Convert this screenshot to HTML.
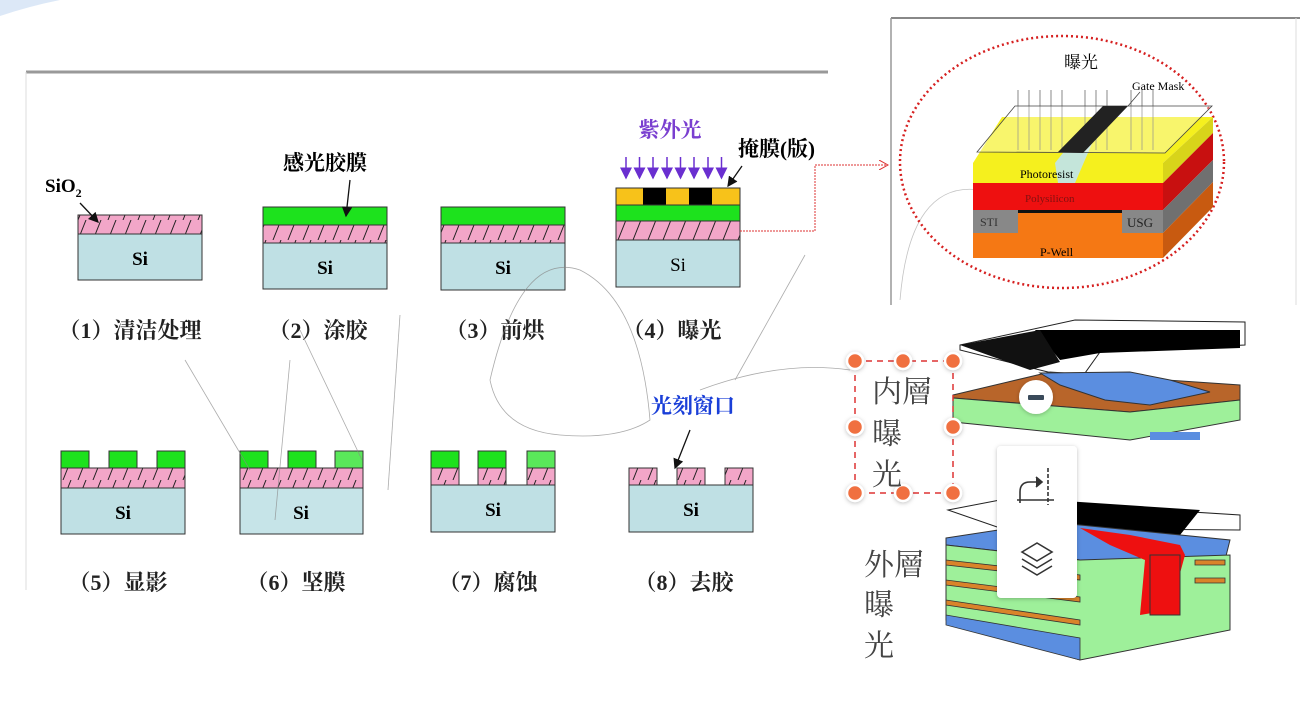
<!DOCTYPE html>
<html><head><meta charset="utf-8"><style>
html,body{margin:0;padding:0;background:#fff;}
svg{display:block;}
.cn{font-family:"Liberation Serif","Noto Serif CJK SC",serif;font-weight:bold;}
</style></head><body>
<svg width="1300" height="707" viewBox="0 0 1300 707" xmlns="http://www.w3.org/2000/svg">
<defs>
<pattern id="h" width="15" height="20" patternUnits="userSpaceOnUse">
<rect width="15" height="20" fill="#f2a6c8"/>
<line x1="3" y1="20" x2="11" y2="0" stroke="#222" stroke-width="1"/>
</pattern>
<marker id="ar" markerWidth="8" markerHeight="8" refX="7" refY="4" orient="auto"><path d="M0,0 L8,4 L0,8 z" fill="#111"/></marker>
<marker id="ap" markerWidth="8" markerHeight="8" refX="7" refY="4" orient="auto"><path d="M0,0 L8,4 L0,8 z" fill="#6a2fd0"/></marker>
<marker id="rr" markerWidth="10" markerHeight="10" refX="9" refY="5" orient="auto"><path d="M0,0 L9,5 L0,10" fill="none" stroke="#d33" stroke-width="1"/></marker>
<filter id="sh"><feDropShadow dx="0" dy="1" stdDeviation="2" flood-opacity="0.25"/></filter>
</defs>
<path d="M0,0 L60,0 Q30,6 0,16 z" fill="#dce8f7"/>
<!-- left panel -->
<line x1="26" y1="72" x2="828" y2="72" stroke="#999" stroke-width="3"/>
<line x1="26" y1="72" x2="26" y2="590" stroke="#ddd" stroke-width="1"/>
<!-- W1 -->
<rect x="78" y="215" width="124" height="19" fill="url(#h)" stroke="#333"/>
<rect x="78" y="234" width="124" height="46" fill="#bfe0e4" stroke="#333"/>
<text x="140" y="265" text-anchor="middle" font-family="Liberation Serif" font-weight="bold" font-size="19">Si</text>
<text x="45" y="192" font-family="Liberation Serif" font-weight="bold" font-size="19">SiO<tspan font-size="12" dy="5">2</tspan></text>
<line x1="80" y1="203" x2="98" y2="222" stroke="#111" stroke-width="1.3" marker-end="url(#ar)"/>
<!-- W2 -->
<rect x="263" y="207" width="124" height="18" fill="#1de21d" stroke="#333"/>
<rect x="263" y="225" width="124" height="18" fill="url(#h)" stroke="#333"/>
<rect x="263" y="243" width="124" height="46" fill="#bfe0e4" stroke="#333"/>
<text x="325" y="274" text-anchor="middle" font-family="Liberation Serif" font-weight="bold" font-size="19">Si</text>
<text x="325" y="170" text-anchor="middle" class="cn" font-size="21">感光胶膜</text>
<line x1="350" y1="180" x2="346" y2="216" stroke="#111" stroke-width="1.3" marker-end="url(#ar)"/>
<!-- W3 -->
<rect x="441" y="207" width="124" height="18" fill="#1de21d" stroke="#333"/>
<rect x="441" y="225" width="124" height="18" fill="url(#h)" stroke="#333"/>
<rect x="441" y="243" width="124" height="47" fill="#bfe0e4" stroke="#333"/>
<text x="503" y="274" text-anchor="middle" font-family="Liberation Serif" font-weight="bold" font-size="19">Si</text>
<!-- W4 -->
<rect x="616" y="188" width="124" height="17" fill="#f7c21a" stroke="#333"/>
<rect x="643" y="188" width="23" height="17" fill="#000"/>
<rect x="689" y="188" width="23" height="17" fill="#000"/>
<rect x="616" y="205" width="124" height="16" fill="#1de21d" stroke="#333"/>
<rect x="616" y="221" width="124" height="19" fill="url(#h)" stroke="#333"/>
<rect x="616" y="240" width="124" height="47" fill="#bfe0e4" stroke="#333"/>
<text x="678" y="271" text-anchor="middle" font-family="Liberation Serif" font-size="19">Si</text>
<text x="670" y="137" text-anchor="middle" class="cn" font-size="21" fill="#7a3fd0">紫外光</text>
<g stroke="#6a2fd0" stroke-width="1.5" marker-end="url(#ap)">
<line x1="626" y1="157" x2="626" y2="178"/><line x1="639.5" y1="157" x2="639.5" y2="178"/><line x1="653" y1="157" x2="653" y2="178"/><line x1="667" y1="157" x2="667" y2="178"/><line x1="680.5" y1="157" x2="680.5" y2="178"/><line x1="694" y1="157" x2="694" y2="178"/><line x1="708" y1="157" x2="708" y2="178"/><line x1="721.5" y1="157" x2="721.5" y2="178"/>
</g>
<text x="738" y="156" class="cn" font-size="21">掩膜(版)</text>
<line x1="742" y1="166" x2="728" y2="186" stroke="#111" stroke-width="1.3" marker-end="url(#ar)"/>
<!-- captions -->
<g class="cn" font-size="22" fill="#222">
<text x="130" y="338" text-anchor="middle">（1）清洁处理</text>
<text x="318" y="338" text-anchor="middle">（2）涂胶</text>
<text x="495" y="338" text-anchor="middle">（3）前烘</text>
<text x="672" y="338" text-anchor="middle">（4）曝光</text>
<text x="118" y="590" text-anchor="middle">（5）显影</text>
<text x="296" y="590" text-anchor="middle">（6）坚膜</text>
<text x="488" y="590" text-anchor="middle">（7）腐蚀</text>
<text x="684" y="590" text-anchor="middle">（8）去胶</text>
</g>
<!-- W5..W8 -->
<g stroke="#333">
<rect x="61" y="451" width="28" height="17" fill="#1de21d"/><rect x="109" y="451" width="28" height="17" fill="#1de21d"/><rect x="157" y="451" width="28" height="17" fill="#1de21d"/>
<rect x="61" y="468" width="124" height="20" fill="url(#h)"/>
<rect x="61" y="488" width="124" height="46" fill="#bfe0e4"/>
<rect x="240" y="451" width="28" height="17" fill="#1de21d"/><rect x="288" y="451" width="28" height="17" fill="#1de21d"/><rect x="335" y="451" width="28" height="17" fill="#5ae85a"/>
<rect x="240" y="468" width="123" height="20" fill="url(#h)"/>
<rect x="240" y="488" width="123" height="46" fill="#c6e4e8"/>
<rect x="431" y="451" width="28" height="17" fill="#1de21d"/><rect x="478" y="451" width="28" height="17" fill="#1de21d"/><rect x="527" y="451" width="28" height="17" fill="#5ae85a"/>
<rect x="431" y="468" width="28" height="17" fill="url(#h)"/><rect x="478" y="468" width="28" height="17" fill="url(#h)"/><rect x="527" y="468" width="28" height="17" fill="url(#h)"/>
<rect x="431" y="485" width="124" height="47" fill="#bfe0e4"/>
<rect x="629" y="468" width="28" height="17" fill="url(#h)"/><rect x="677" y="468" width="28" height="17" fill="url(#h)"/><rect x="725" y="468" width="28" height="17" fill="url(#h)"/>
<rect x="629" y="485" width="124" height="47" fill="#bfe0e4"/>
</g>
<g font-family="Liberation Serif" font-weight="bold" font-size="19" text-anchor="middle">
<text x="123" y="519">Si</text><text x="301" y="519">Si</text><text x="493" y="516">Si</text><text x="691" y="516">Si</text>
</g>
<text x="693" y="413" text-anchor="middle" class="cn" font-size="21" fill="#1a3fd8">光刻窗口</text>
<line x1="690" y1="430" x2="675" y2="468" stroke="#111" stroke-width="1.3" marker-end="url(#ar)"/>
<!-- faint overlay lines -->
<g fill="none" stroke="#888" stroke-width="0.8" opacity="0.7">
<path d="M185,360 L250,470"/><path d="M290,360 L275,520"/><path d="M300,330 L362,460"/><path d="M400,315 L388,490"/>
<path d="M490,380 Q520,250 580,270 Q640,300 650,420 Q620,440 560,435 Q500,430 490,380"/>
<path d="M805,255 L735,380"/><path d="M700,390 Q780,360 850,370"/>
<path d="M900,300 Q910,180 980,190" stroke="#aaa"/>
</g>
<!-- red dotted connector -->
<path d="M740,231 L815,231 L815,165 L888,165" fill="none" stroke="#d33" stroke-width="1" stroke-dasharray="2,1" marker-end="url(#rr)"/>
<!-- right top panel -->
<line x1="891" y1="18" x2="1300" y2="18" stroke="#888" stroke-width="2"/>
<line x1="891" y1="18" x2="891" y2="305" stroke="#999" stroke-width="1.5"/>
<line x1="1296" y1="18" x2="1296" y2="305" stroke="#ddd" stroke-width="1"/>
<ellipse cx="1062" cy="162" rx="162" ry="126" fill="none" stroke="#d62020" stroke-width="2.5" stroke-dasharray="2,3"/>
<text x="1081" y="68" text-anchor="middle" font-family="Liberation Serif,Noto Serif CJK SC,serif" font-size="17">曝光</text>
<polygon points="973,163 1002,117 1213,117 1163,163" fill="#f5f01e"/>
<polygon points="1163,163 1213,117 1213,133 1163,183" fill="#d8d41a"/>
<polygon points="1163,183 1213,133 1213,160 1163,210" fill="#c81010"/>
<polygon points="1163,210 1213,160 1213,182 1163,233" fill="#707070"/>
<polygon points="1163,233 1213,182 1213,207 1163,258" fill="#c85a10"/>
<rect x="973" y="163" width="190" height="20" fill="#f5f01e"/>
<rect x="973" y="183" width="190" height="27" fill="#ee1010"/>
<rect x="973" y="210" width="190" height="48" fill="#f57814"/>
<rect x="973" y="210" width="45" height="23" fill="#888"/>
<rect x="1122" y="210" width="41" height="23" fill="#888"/>
<rect x="1018" y="210" width="104" height="3" fill="#111"/>
<polygon points="1055,163 1085,125 1100,125 1075,183 1058,183" fill="#bfe3ee" opacity="0.9"/>
<g stroke="#555" stroke-width="0.7">
<line x1="1018" y1="90" x2="1018" y2="150"/><line x1="1029" y1="90" x2="1029" y2="150"/><line x1="1040" y1="90" x2="1040" y2="150"/><line x1="1051" y1="90" x2="1051" y2="150"/><line x1="1062" y1="90" x2="1062" y2="150"/><line x1="1085" y1="90" x2="1085" y2="150"/><line x1="1096" y1="90" x2="1096" y2="150"/><line x1="1107" y1="90" x2="1107" y2="150"/><line x1="1131" y1="90" x2="1131" y2="150"/><line x1="1142" y1="90" x2="1142" y2="150"/><line x1="1153" y1="90" x2="1153" y2="150"/>
</g>
<polygon points="977,152 1015,106 1212,106 1165,153" fill="rgba(255,255,255,0.35)" stroke="#444" stroke-width="0.8"/>
<polygon points="1058,152 1103,106 1128,106 1083,153" fill="#222"/>
<line x1="1128" y1="106" x2="1140" y2="92" stroke="#444" stroke-width="0.8"/>
<text x="1132" y="90" font-family="Liberation Serif" font-size="12">Gate Mask</text>
<text x="1020" y="178" font-family="Liberation Serif" font-size="12">Photoresist</text>
<text x="1025" y="202" font-family="Liberation Serif" font-size="11" fill="#801010">Polysilicon</text>
<text x="980" y="226" font-family="Liberation Serif" font-size="12" fill="#333">STI</text>
<text x="1127" y="227" font-family="Liberation Serif" font-size="13" fill="#222">USG</text>
<text x="1040" y="256" font-family="Liberation Serif" font-size="12">P-Well</text>
<!-- lower right PCB drawings -->
<polygon points="960,345 1075,320 1245,322 1245,345 1100,352 1080,380 960,350" fill="#fff" stroke="#222"/>
<polygon points="1035,330 1240,330 1240,348 1100,353 1060,360" fill="#000"/>
<polygon points="960,345 1040,330 1060,362 1030,370" fill="#111"/>
<polygon points="953,395 1050,372 1240,385 1240,400 1130,412 953,398" fill="#b8652a" stroke="#333"/>
<polygon points="1040,373 1130,372 1170,380 1210,392 1150,405 1105,400 1060,385" fill="#5b8ee0" stroke="#333"/>
<polygon points="953,398 1130,412 1240,400 1240,420 1130,440 953,422" fill="#9ef09a" stroke="#333"/>
<rect x="1150" y="432" width="50" height="8" fill="#5b8ee0"/>
<polygon points="948,510 1000,500 1240,515 1240,530 1000,528" fill="#fff" stroke="#222"/>
<polygon points="1050,500 1200,510 1180,535 1080,530" fill="#000"/>
<polygon points="946,538 1050,522 1230,540 1225,560 1080,560 946,545" fill="#5b8ee0" stroke="#333"/>
<polygon points="946,545 1080,560 1230,555 1230,630 1080,660 946,620" fill="#9ef09a" stroke="#333"/>
<g stroke="#333" stroke-width="0.8">
<polygon points="946,560 1080,575 1080,580 946,565" fill="#d9842a"/>
<polygon points="946,580 1080,597 1080,602 946,585" fill="#d9842a"/>
<polygon points="946,600 1080,620 1080,625 946,605" fill="#d9842a"/>
<polygon points="946,615 1080,638 1080,660 946,625" fill="#5b8ee0"/>
<polygon points="1195,560 1225,560 1225,565 1195,565" fill="#d9842a"/>
<polygon points="1195,578 1225,578 1225,583 1195,583" fill="#d9842a"/>
</g>
<polygon points="1080,528 1130,535 1180,545 1185,555 1170,610 1140,615 1145,560 1110,545" fill="#ee1010"/>
<rect x="1150" y="555" width="30" height="60" fill="#ee1010" stroke="#333"/>
<rect x="855" y="361" width="98" height="132" fill="none" stroke="#d33" stroke-width="1.5" stroke-dasharray="6,5"/>
<g fill="#f07040" stroke="#fff" stroke-width="2.5" filter="url(#sh)">
<circle cx="855" cy="361" r="8"/><circle cx="903" cy="361" r="8"/><circle cx="953" cy="361" r="8"/>
<circle cx="855" cy="427" r="8"/><circle cx="953" cy="427" r="8"/>
<circle cx="855" cy="493" r="8"/><circle cx="903" cy="493" r="8"/><circle cx="953" cy="493" r="8"/>
</g>
<g font-family="Liberation Serif,Noto Serif CJK SC,serif" font-size="30" fill="#444">
<text x="872" y="402">内層</text><text x="872" y="444">曝</text><text x="872" y="485">光</text>
<text x="864" y="575">外層</text><text x="864" y="615">曝</text><text x="864" y="656">光</text>
</g>
<circle cx="1036" cy="397" r="17" fill="#fff" filter="url(#sh)"/>
<rect x="1028" y="395" width="16" height="5" rx="1" fill="#3a4a5a"/>
<rect x="997" y="446" width="80" height="152" rx="4" fill="#fff" filter="url(#sh)"/>
<g fill="none" stroke="#333" stroke-width="1.6">
<path d="M1020,503 L1020,492 Q1020,482 1030,482 L1040,482"/><path d="M1036,477 L1042,482 L1036,487" fill="#333"/>
<line x1="1048" y1="468" x2="1048" y2="505" stroke-dasharray="4,2"/>
<line x1="1017" y1="500" x2="1054" y2="500"/>
<path d="M1022,552 L1037,543 L1052,552 L1037,561 z"/>
<path d="M1022,559 L1037,568 L1052,559"/><path d="M1022,566 L1037,575 L1052,566"/>
</g>
</svg>
</body></html>
